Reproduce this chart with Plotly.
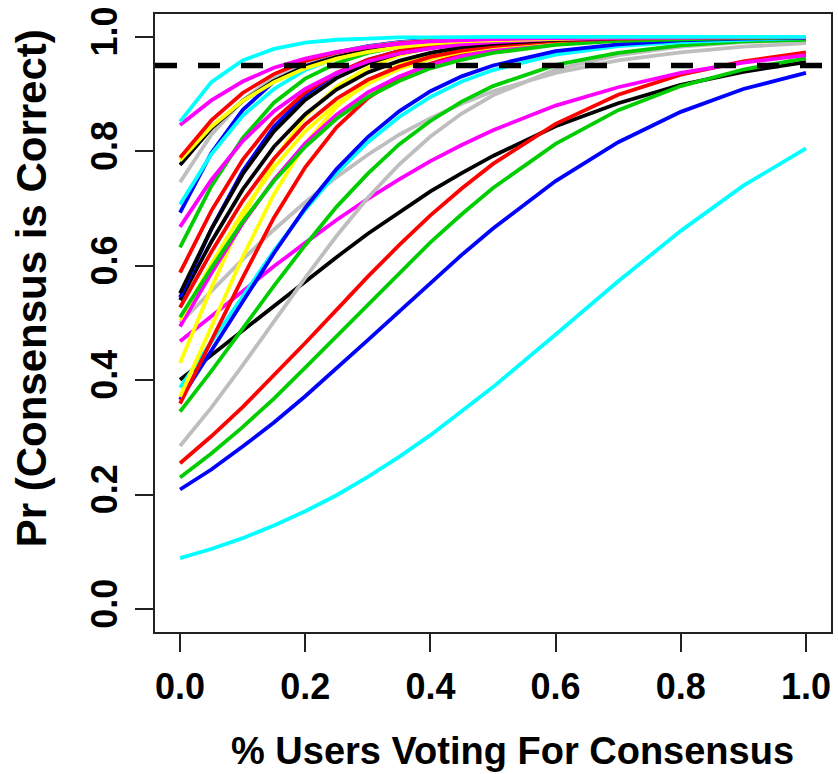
import plotly.graph_objects as go

# ---- data ----
x_share = [0, 0.05, 0.1, 0.15, 0.2, 0.25, 0.3, 0.35, 0.4, 0.45, 0.5, 0.6, 0.7, 0.8, 0.9, 1.0]

y_cyan_a    = [.852, .921, .959, .979, .990, .995, .997, .999, .999, 1, 1, 1, 1, 1, 1, 1]
y_magenta_a = [.846, .889, .922, .946, .962, .974, .982, .988, .992, .994, .996, .998, .999, 1, 1, 1]
y_red_a     = [.789, .854, .902, .935, .958, .973, .982, .989, .993, .995, .997, .999, .999, 1, 1, 1]
y_yellow_a  = [.784, .843, .888, .921, .945, .962, .974, .982, .988, .992, .994, .997, .999, .999, 1, 1]
y_black_a   = [.776, .840, .888, .923, .948, .965, .977, .984, .990, .993, .995, .998, .999, 1, 1, 1]
y_gray_a    = [.746, .829, .889, .930, .956, .973, .983, .990, .994, .996, .998, .999, 1, 1, 1, 1]
y_cyan_b    = [.707, .795, .862, .909, .942, .963, .977, .985, .991, .994, .996, .999, .999, 1, 1, 1]
y_blue_a    = [.693, .797, .872, .922, .953, .973, .984, .991, .995, .997, .998, .999, 1, 1, 1, 1]
y_magenta_b = [.668, .750, .818, .870, .909, .937, .957, .971, .980, .987, .991, .996, .998, .999, 1, 1]
y_green_a   = [.632, .739, .823, .885, .927, .954, .972, .983, .989, .994, .996, .999, .999, 1, 1, 1]
y_red_b     = [.588, .696, .785, .854, .903, .937, .960, .975, .984, .990, .994, .998, .999, 1, 1, 1]
y_black_b   = [.552, .664, .760, .835, .890, .928, .954, .971, .981, .988, .993, .997, .999, 1, 1, 1]
y_blue_b    = [.545, .664, .765, .843, .898, .936, .960, .975, .985, .991, .994, .998, .999, 1, 1, 1]
y_black_c   = [.540, .642, .733, .808, .865, .908, .938, .958, .972, .982, .988, .995, .998, .999, 1, 1]
y_red_c     = [.527, .624, .713, .787, .847, .892, .925, .948, .965, .976, .984, .993, .997, .998, .999, 1]
y_green_b   = [.510, .596, .677, .748, .808, .857, .895, .923, .945, .960, .972, .986, .993, .996, .998, .999]
y_yellow_b  = [.505, .603, .694, .772, .835, .883, .918, .944, .962, .974, .982, .992, .996, .998, .999, 1]
y_magenta_c = [.494, .587, .674, .750, .814, .864, .903, .931, .951, .966, .977, .989, .995, .997, .999, .999]
y_gray_b    = [.500, .556, .611, .663, .711, .755, .794, .829, .858, .883, .905, .937, .959, .973, .983, .989]
y_magenta_d = [.468, .512, .556, .599, .640, .680, .717, .751, .783, .811, .837, .880, .912, .937, .955, .968]
y_yellow_c  = [.430, .561, .684, .785, .861, .913, .946, .968, .981, .988, .993, .998, .999, 1, 1, 1]
y_black_d   = [.401, .444, .487, .530, .573, .615, .656, .694, .730, .762, .792, .844, .884, .916, .939, .956]
y_cyan_c    = [.387, .466, .547, .626, .698, .762, .816, .860, .895, .922, .942, .969, .984, .991, .995, .998]
y_yellow_d  = [.371, .493, .615, .725, .813, .878, .922, .951, .970, .981, .989, .996, .998, .999, 1, 1]
y_blue_c    = [.366, .450, .537, .622, .701, .769, .825, .870, .905, .931, .950, .975, .987, .994, .997, .998]
y_red_d     = [.359, .468, .579, .684, .772, .842, .893, .929, .953, .970, .981, .992, .997, .999, 1, 1]
y_green_c   = [.345, .416, .490, .565, .636, .703, .761, .812, .853, .887, .914, .951, .972, .985, .992, .995]
y_gray_c    = [.285, .352, .426, .503, .579, .652, .719, .777, .826, .866, .898, .943, .968, .983, .991, .995]
y_red_e     = [.255, .302, .353, .408, .465, .523, .581, .636, .688, .735, .778, .848, .899, .934, .957, .973]
y_green_d   = [.230, .272, .318, .368, .422, .477, .533, .588, .641, .690, .736, .813, .872, .914, .943, .963]
y_blue_d    = [.209, .244, .284, .326, .372, .420, .470, .520, .570, .619, .665, .748, .816, .869, .909, .937]
y_cyan_d    = [.089, .105, .124, .146, .171, .199, .231, .266, .304, .345, .388, .480, .573, .661, .740, .805]

threshold = 0.95
tick_vals = [0.0, 0.2, 0.4, 0.6, 0.8, 1.0]
tick_text = ["0.0", "0.2", "0.4", "0.6", "0.8", "1.0"]
x_title = "% Users Voting For Consensus"
y_title = "Pr (Consensus is Correct)"

# ---- styling ----
COL = {"black": "#000000", "red": "#FF0000", "green": "#00CD00", "blue": "#0000FF",
       "cyan": "#00FFFF", "magenta": "#FF00FF", "yellow": "#FFFF00", "gray": "#BEBEBE"}

series = [
    ("black", y_black_d), ("red", y_red_e), ("green", y_green_d), ("blue", y_blue_d),
    ("cyan", y_cyan_d), ("magenta", y_magenta_d), ("gray", y_gray_c), ("gray", y_gray_b),
    ("green", y_green_c), ("cyan", y_cyan_c), ("blue", y_blue_c), ("red", y_red_d),
    ("yellow", y_yellow_d), ("yellow", y_yellow_c), ("magenta", y_magenta_c),
    ("yellow", y_yellow_b), ("green", y_green_b), ("red", y_red_c), ("black", y_black_c),
    ("blue", y_blue_b), ("black", y_black_b), ("red", y_red_b), ("green", y_green_a),
    ("magenta", y_magenta_b), ("blue", y_blue_a), ("cyan", y_cyan_b), ("gray", y_gray_a),
    ("black", y_black_a), ("yellow", y_yellow_a), ("red", y_red_a), ("magenta", y_magenta_a),
    ("cyan", y_cyan_a),
]

FONT = "Liberation Sans, Arial, Helvetica, sans-serif"

fig = go.Figure()
for cname, ys in series:
    fig.add_trace(go.Scatter(x=x_share, y=ys, mode="lines",
                             line=dict(color=COL[cname], width=3.8),
                             showlegend=False, hoverinfo="skip"))

fig.add_hline(y=threshold, line=dict(color="black", width=5.5, dash="22px,21px"))

axis_common = dict(range=[-0.04, 1.04], showgrid=False, zeroline=False,
                   showline=True, mirror=True, linecolor="#222222", linewidth=1.5,
                   ticks="outside", ticklen=18, tickwidth=1.5, tickcolor="#222222",
                   tickvals=tick_vals, ticktext=tick_text,
                   tickfont=dict(family=FONT, size=36, color="black", weight="bold"))

fig.update_xaxes(**axis_common, ticklabelstandoff=4)
fig.update_yaxes(**axis_common, tickangle=-90, ticklabelstandoff=4)

fig.add_annotation(text=x_title, xref="paper", yref="paper",
                   x=(514 - 155) / 678, y=-(751 - 632) / 618,
                   xanchor="center", yanchor="middle", showarrow=False,
                   font=dict(family=FONT, size=38, color="black", weight="bold"))
fig.add_annotation(text=y_title, xref="paper", yref="paper",
                   x=-(155 - 32) / 678, y=(632 - 288) / 618, textangle=-90,
                   xanchor="center", yanchor="middle", showarrow=False,
                   font=dict(family=FONT, size=42, color="black", weight="bold"))

fig.update_layout(width=838, height=774, paper_bgcolor="white", plot_bgcolor="white",
                  margin=dict(l=155, r=5, t=14, b=142))

fig.write_html("out.html", config={"displayModeBar": False},
               post_script="document.body.style.margin='0';document.body.style.overflow='hidden';")
